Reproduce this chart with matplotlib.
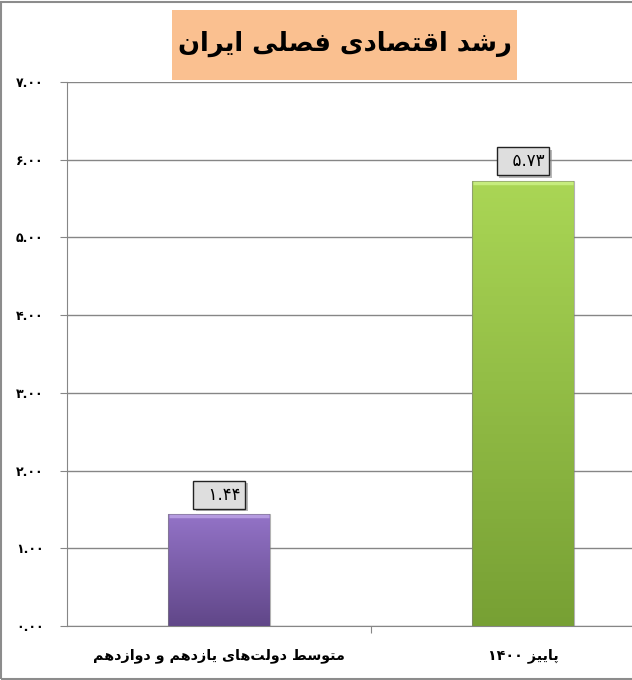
import numpy as np
import matplotlib.pyplot as plt
import matplotlib.patheffects as pe
from matplotlib.colors import LinearSegmentedColormap
from matplotlib.patches import Rectangle

# data
categories = ['متوسط دولت‌های یازدهم و دوازدهم', 'پاییز ۱۴۰۰']
values = [1.44, 5.73]
value_labels = ['۱.۴۴', '۵.۷۳']
title = 'رشد اقتصادی فصلی ایران'
yticks = [0, 1, 2, 3, 4, 5, 6, 7]
ytick_labels = ['۰.۰۰', '۱.۰۰', '۲.۰۰', '۳.۰۰', '۴.۰۰', '۵.۰۰', '۶.۰۰', '۷.۰۰']
bar_colors = [('#9373c7', '#614789', '#b59be0'), ('#aad655', '#77a034', '#c6ec7e')]

# presentation forms: iso, fin, ini, med (right-joining letters have only iso, fin)
FORMS = {
    'ا': (0xFE8D, 0xFE8E), 'د': (0xFEA9, 0xFEAA), 'ر': (0xFEAD, 0xFEAE),
    'ز': (0xFEAF, 0xFEB0), 'و': (0xFEED, 0xFEEE),
    'ت': (0xFE95, 0xFE96, 0xFE97, 0xFE98), 'س': (0xFEB1, 0xFEB2, 0xFEB3, 0xFEB4),
    'ش': (0xFEB5, 0xFEB6, 0xFEB7, 0xFEB8), 'ص': (0xFEB9, 0xFEBA, 0xFEBB, 0xFEBC),
    'ط': (0xFEC1, 0xFEC2, 0xFEC3, 0xFEC4), 'ف': (0xFED1, 0xFED2, 0xFED3, 0xFED4),
    'ق': (0xFED5, 0xFED6, 0xFED7, 0xFED8), 'ل': (0xFEDD, 0xFEDE, 0xFEDF, 0xFEE0),
    'م': (0xFEE1, 0xFEE2, 0xFEE3, 0xFEE4), 'ن': (0xFEE5, 0xFEE6, 0xFEE7, 0xFEE8),
    'ه': (0xFEE9, 0xFEEA, 0xFEEB, 0xFEEC), 'ی': (0xFBFC, 0xFBFD, 0xFBFE, 0xFBFF),
    'پ': (0xFB56, 0xFB57, 0xFB58, 0xFB59),
}


def shape_word(w):
    out = []
    for i, c in enumerate(w):
        if c not in FORMS:
            out.append(c)
            continue
        prev = w[i - 1] if i > 0 else ''
        nxt = w[i + 1] if i + 1 < len(w) else ''
        jp = prev in FORMS and len(FORMS[prev]) == 4
        jn = len(FORMS[c]) == 4 and nxt in FORMS
        f = FORMS[c]
        if jp and jn:
            out.append(chr(f[3]))
        elif jp:
            out.append(chr(f[1]))
        elif jn:
            out.append(chr(f[2]))
        else:
            out.append(chr(f[0]))
    out = [c for c in out if c != '\u200c']
    if any(c in FORMS for c in w):
        out = out[::-1]
    return ''.join(out)


def rtl(s):
    # shape + reverse word order, digits stay left to right
    return ' '.join(shape_word(w) for w in s.split(' ')[::-1])


plt.rcParams['font.family'] = ['DejaVu Sans']

fig = plt.figure(figsize=(6.32, 6.8), dpi=100)
fig.patches.append(Rectangle((0.0015, 0.0015), 1.2, 0.9955, transform=fig.transFigure,
                             fill=False, edgecolor='#8c8c8c', linewidth=1.5))

ax = fig.add_axes([67 / 632, 54 / 680, 608 / 632, 544 / 680])
x = np.arange(len(categories))
bars = ax.bar(x, values, width=0.335, color='none', edgecolor='none', zorder=3)

for b, (c1, c2, c3) in zip(bars, bar_colors):
    grad = np.linspace(0, 1, 100).reshape(-1, 1)
    cmap = LinearSegmentedColormap.from_list('g', [c1, c2])
    im = ax.imshow(grad, cmap=cmap, aspect='auto', zorder=3,
                   extent=[b.get_x(), b.get_x() + b.get_width(), 0, b.get_height()])
    im.set_clip_path(b)
    ax.add_patch(Rectangle((b.get_x(), 0), b.get_width(), b.get_height(), fill=False,
                           edgecolor='#7f7f7f', linewidth=0.8, alpha=0.6, zorder=4))
    # light bevel along the top
    ax.plot([b.get_x() + 0.004, b.get_x() + b.get_width() - 0.004],
            [b.get_height() - 0.03] * 2, color=c3, linewidth=2.5, zorder=4,
            solid_capstyle='butt')

for xi, v, lab in zip(x, values, value_labels):
    t = ax.annotate('  ' + lab, (xi, v), xytext=(0, 14), textcoords='offset points',
                    ha='center', va='center', fontsize=12, zorder=6,
                    bbox=dict(boxstyle='square,pad=0.3', facecolor='#dedede',
                              edgecolor='#222222', linewidth=1))
    t.get_bbox_patch().set_path_effects([
        pe.SimplePatchShadow(offset=(2, -2), shadow_rgbFace='#888888', alpha=0.6),
        pe.Normal()])

ax.set_xlim(-0.5, 1.5)
ax.set_ylim(0, 7)
ax.set_yticks(yticks)
ax.set_yticklabels(ytick_labels, fontsize=9, fontweight='bold')
ax.set_xticks([0.5])
ax.set_xticklabels([''])
ax.tick_params(axis='x', length=5, color='#868686')
ax.tick_params(axis='y', length=5, color='#868686', pad=12)
ax.grid(axis='y', color='#868686', linewidth=1)
ax.set_axisbelow(True)
for s in ['top', 'right']:
    ax.spines[s].set_visible(False)
for s in ['left', 'bottom']:
    ax.spines[s].set_color('#868686')

for xi, cat in zip(x, categories):
    ax.text(xi, -0.38, rtl(cat), ha='center', va='center', fontsize=10.3,
            fontweight='bold')

# title box
fig.patches.append(Rectangle((172 / 632, 1 - 80 / 680), 345 / 632, 70 / 680,
                             transform=fig.transFigure, facecolor='#fac090',
                             edgecolor='none'))
fig.text(344.5 / 632, 1 - 44 / 680, rtl(title), ha='center', va='center',
         fontsize=18.5, fontweight='bold')

fig.savefig('out.png', dpi=100)
